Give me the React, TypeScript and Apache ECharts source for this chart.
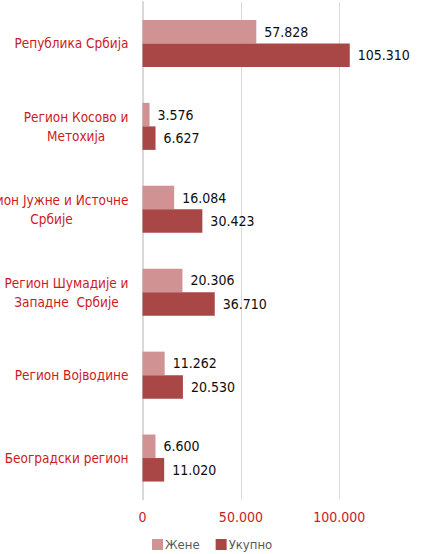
import React, { useEffect, useRef } from "react";
import * as echarts from "echarts";

const categories = [
  "Београдски регион",
  "Регион Војводине",
  "Регион Шумадије и\nЗападне  Србије",
  "Регион Јужне и Источне\nСрбије",
  "Регион Косово и\nМетохија",
  "Република Србија",
];
const seriesNames = ["Жене", "Укупно"];
const zene = [6600, 11262, 20306, 16084, 3576, 57828];
const ukupno = [11020, 20530, 36710, 30423, 6627, 105310];
const xTicks = [0, 50000, 100000, 150000];

const FONT = "'Liberation Sans Narrow', 'Arial Narrow', 'DejaVu Sans Condensed', sans-serif";
const RED = "#CC1A1F";

const fmt = (v: number) =>
  v === 0 ? "0" : Math.round(v).toString().replace(/\B(?=(\d{3})+(?!\d))/g, ".");

export default function App() {
  const ref = useRef<HTMLDivElement>(null);
  useEffect(() => {
    document.body.style.margin = "0";
    if (!ref.current) return;
    const chart = echarts.init(ref.current, undefined, { renderer: "svg" });
    const labelStyle = {
      show: true,
      position: "right" as const,
      distance: 8,
      color: "#0d0d0d",
      fontFamily: FONT,
      fontSize: 14,
      formatter: (p: any) => fmt(p.value),
    };
    chart.setOption({
      animation: false,
      backgroundColor: "#fff",
      grid: {
        left: 142.5,
        top: 2,
        height: 497.5,
        width: 295.2,
        containLabel: false,
        outerBoundsMode: "none",
      },
      legend: {
        data: seriesNames,
        left: 147,
        top: 533,
        itemWidth: 11,
        itemHeight: 11,
        itemGap: 16,
        icon: "rect",
        textStyle: { color: "#595959", fontFamily: FONT, fontSize: 13, padding: [0, 0, 0, -3] },
      },
      xAxis: {
        type: "value",
        min: xTicks[0],
        max: xTicks[xTicks.length - 1],
        interval: xTicks[1] - xTicks[0],
        axisLine: { show: false },
        axisTick: { show: false },
        splitLine: { show: true, lineStyle: { color: "#D9D9D9", width: 1 } },
        axisLabel: {
          color: RED,
          fontFamily: FONT,
          fontSize: 14,
          margin: 10,
          showMaxLabel: false,
          formatter: (v: number) => fmt(v),
        },
      },
      yAxis: {
        type: "category",
        data: categories,
        axisLine: { show: true, lineStyle: { color: "#D9D9D9", width: 2 } },
        axisTick: { show: false },
        axisLabel: {
          align: "right",
          margin: 14,
          fontFamily: FONT,
          fontSize: 13.5,
          color: RED,
          lineHeight: 19,
          formatter: (v: string) =>
            v
              .split("\n")
              .map((l) => `{c|${l}}`)
              .join("\n"),
          rich: {
            c: {
              align: "center",
              fontFamily: FONT,
              fontSize: 13.5,
              color: RED,
              lineHeight: 19,
            },
          },
        },
      },
      series: [
        {
          name: seriesNames[0],
          type: "bar",
          data: zene,
          barWidth: 23.5,
          barGap: "0%",
          itemStyle: { color: "#D09292" },
          label: labelStyle,
        },
        {
          name: seriesNames[1],
          type: "bar",
          data: ukupno,
          barWidth: 23.5,
          barGap: "0%",
          itemStyle: { color: "#A94646" },
          label: labelStyle,
        },
      ],
    });
    return () => chart.dispose();
  }, []);
  return (
    <div
      ref={ref}
      style={{ position: "absolute", left: 0, top: 0, width: 427, height: 554, overflow: "hidden" }}
    />
  );
}
